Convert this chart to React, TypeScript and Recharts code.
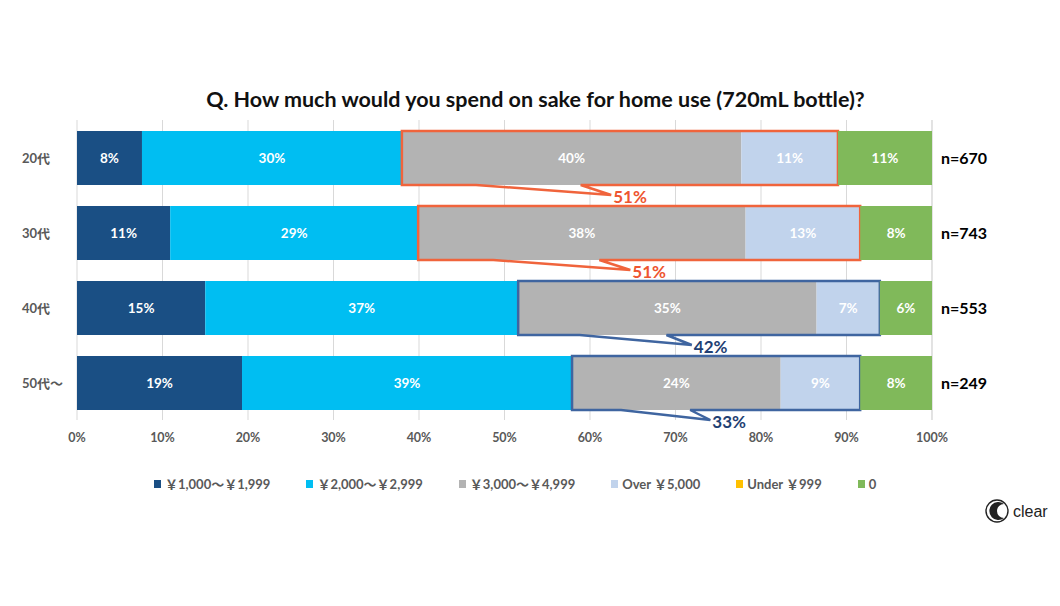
import { BarChart, Bar, XAxis, YAxis, CartesianGrid, LabelList } from "recharts";

const AGES = ["20代", "30代", "40代", "50代〜"];
const LOW = [7.6, 10.9, 15.0, 19.3];
const MIDLOW = [30.4, 29.0, 36.6, 38.6];
const MID = [39.7, 38.3, 34.9, 24.4];
const OVER = [11.3, 13.4, 7.4, 9.3];
const UNDER = [0, 0, 0, 0];
const NONE = [11.0, 8.4, 6.1, 8.4];
const SAMPLE = [670, 743, 553, 249];
const UPPER = [51, 51, 42, 33];
const TICKS = [0, 10, 20, 30, 40, 50, 60, 70, 80, 90, 100];

const SERIES = [
  { key: "low", name: "￥1,000〜￥1,999", color: "#1A4F84" },
  { key: "midlow", name: "￥2,000〜￥2,999", color: "#00BEF2" },
  { key: "mid", name: "￥3,000〜￥4,999", color: "#B3B3B3" },
  { key: "over", name: "Over ￥5,000", color: "#C1D3EC" },
  { key: "under", name: "Under ￥999", color: "#FFC000" },
  { key: "none", name: "0", color: "#80B95A" },
];

const data = AGES.map((age, i) => ({
  age,
  low: LOW[i],
  midlow: MIDLOW[i],
  mid: MID[i],
  over: OVER[i],
  under: UNDER[i],
  none: NONE[i],
  n: SAMPLE[i],
}));

const FONT = "Lato, 'Noto Sans CJK JP', sans-serif";
const BOX_STROKE = ["#F0643C", "#F0643C", "#3F65A0", "#3F65A0"];
const BOX_TEXT = ["#EE5530", "#EE5530", "#1F3F73", "#1F3F73"];

const pct = (v: number) => `${Math.round(v)}%`;

const AgeTick = ({ y, payload }: any) => (
  <text x={14} y={y} dy={5} textAnchor="start" fill="#595959" fontSize={13} fontWeight={700} fontFamily={FONT}>
    {payload.value}
  </text>
);

// light blue segment + the callout box around 3,000 yen and over
const OverShape = (props: any) => {
  const { x, y, width, height, fill, payload, index } = props;
  const grayW = payload.over > 0 ? (width * payload.mid) / payload.over : 0;
  const left = x - grayW;
  const right = x + width;
  const bottom = y + height;
  const w = right - left;
  const ax = left + 0.17 * w;
  const bx = left + 0.41 * w;
  const tx = left + 0.48 * w;
  const ty = bottom + 10;
  return (
    <g>
      <rect x={x} y={y} width={width} height={height} fill={fill} />
      <path
        d={`M${left},${y} H${right} V${bottom} H${bx} L${tx},${ty} L${ax},${bottom} H${left} Z`}
        fill="none"
        stroke={BOX_STROKE[index]}
        strokeWidth={2.5}
      />
      <text x={tx + 2} y={ty + 8} fill={BOX_TEXT[index]} fontSize={17} fontWeight={700} fontFamily={FONT}>
        {UPPER[index]}%
      </text>
    </g>
  );
};

const labelStyle = { fill: "#fff", fontSize: 13.5, fontWeight: 700, fontFamily: FONT };

export default function App() {
  return (
    <div style={{ position: "relative", width: 1052, height: 590, overflow: "hidden", fontFamily: FONT }}>
      <div
        style={{
          position: "absolute",
          top: 78,
          left: 0,
          width: 1055,
          textAlign: "center",
          fontSize: 21.5,
          fontWeight: 700,
          color: "#111",
        }}
      >
        Q. How much would you spend on sake for home use (720mL bottle)?
      </div>
      <BarChart
        width={1044}
        height={590}
        data={data}
        layout="vertical"
        margin={{ top: 112, right: 120, bottom: 148, left: 0 }}
        barSize={54}
      >
        <CartesianGrid horizontal={false} stroke="#D9D9D9" />
        <XAxis
          type="number"
          domain={[0, 100]}
          ticks={TICKS}
          tickFormatter={(v) => `${v}%`}
          axisLine={false}
          tickLine={false}
          tickMargin={7}
          height={30}
          tick={{ fill: "#595959", fontSize: 12.5, fontWeight: 700, fontFamily: FONT }}
        />
        <YAxis type="category" dataKey="age" width={69} axisLine={false} tickLine={false} tick={<AgeTick />} />
        {SERIES.map((s) => (
          <Bar
            key={s.key}
            dataKey={s.key}
            name={s.name}
            stackId="a"
            fill={s.color}
            isAnimationActive={false}
            shape={s.key === "over" ? <OverShape /> : undefined}
          >
            {s.key !== "under" && (
              <LabelList dataKey={s.key} position="center" formatter={(v: any) => pct(Number(v))} style={labelStyle} />
            )}
            {s.key === "none" && (
              <LabelList
                dataKey="n"
                position="right"
                offset={9}
                formatter={(v: any) => `n=${v}`}
                style={{ fill: "#000", fontSize: 16, fontWeight: 700, fontFamily: FONT }}
              />
            )}
          </Bar>
        ))}
      </BarChart>
      <div
        style={{
          position: "absolute",
          top: 466,
          left: 146,
          display: "flex",
          gap: 36,
          fontSize: 13,
          fontWeight: 700,
          color: "#595959",
          whiteSpace: "nowrap",
        }}
      >
        {SERIES.map((s) => (
          <div key={s.key} style={{ display: "flex", alignItems: "center" }}>
            <span style={{ width: 7, height: 8, background: s.color, marginRight: 4 }} />
            {s.name}
          </div>
        ))}
      </div>
      <svg style={{ position: "absolute", left: 974, top: 488 }} width={78} height={34}>
        <circle cx={15} cy={15} r={11} fill="none" stroke="#222" strokeWidth={1.4} />
        <path d="M22,8 A9,9 0 1 0 22,22 A7,7 0 1 1 22,8 Z" fill="#222" />
        <text x={31} y={21} fontSize={16} fill="#222" fontFamily="'Liberation Sans', sans-serif">
          clear
        </text>
      </svg>
    </div>
  );
}
